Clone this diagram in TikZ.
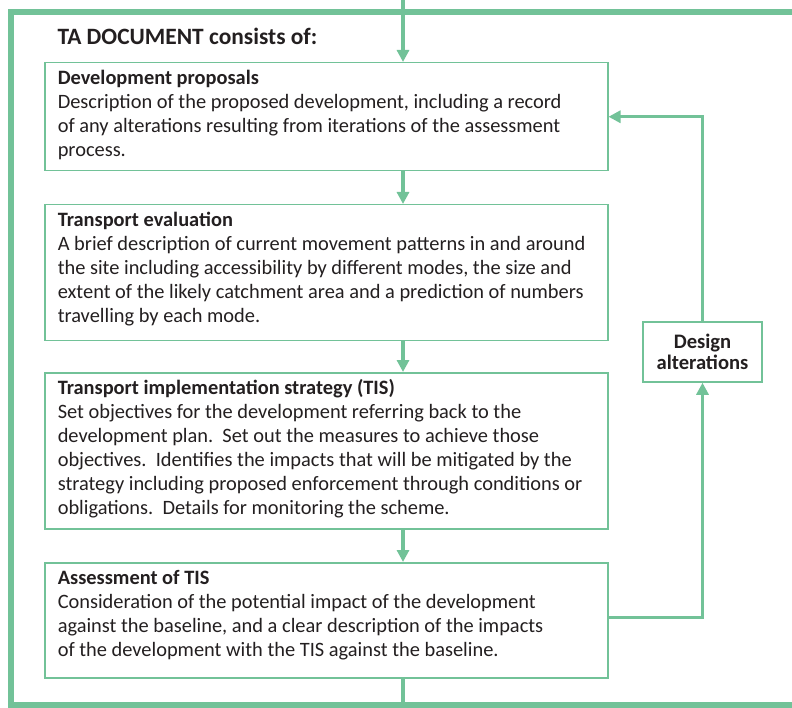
\documentclass[tikz,border=0pt]{standalone}
\usepackage{fontspec}
\setmainfont{Carlito}
\usetikzlibrary{arrows.meta}
\definecolor{tagreen}{RGB}{114,194,152}
\definecolor{tatext}{RGB}{35,31,32}
\newcommand{\boxbody}[3]{\parbox[t][#1][t]{537pt}{\rule{0pt}{22pt}\textbf{#2}\\#3}}
\begin{document}
\begin{tikzpicture}[x=1pt,y=-1pt,
  bodyfont/.style={font=\fontsize{20.4}{24}\selectfont},
  stepbox/.style={draw=tagreen, line width=1.5pt, fill=white, anchor=north west,
    inner xsep=13pt, inner ysep=0pt, align=left, text=tatext, bodyfont},
  altbox/.style={draw=tagreen, line width=1.5pt, fill=white, minimum width=119pt,
    minimum height=60pt, align=center, text=tatext,
    font=\fontsize{20.6}{21}\selectfont\bfseries},
  frame/.style={draw=tagreen, line width=5.5pt},
  link/.style={draw=tagreen, line width=3.5pt},
  arr/.style={link, -{Triangle[width=12pt,length=12pt]}}]
\useasboundingbox (0,0) rectangle (792,708);
% outer frame
\draw[frame] (800,12) -- (11,12) -- (11,705) -- (800,705);
\node[anchor=base west, text=tatext, font=\fontsize{23.4}{24}\selectfont\bfseries] (title) at (54,45) {TA DOCUMENT consists of:};
\node[stepbox] (dp) at (44,62) {\boxbody{108pt}{Development proposals}{%
Description of the proposed development, including a record\\
of any alterations resulting from iterations of the assessment\\
process.}};
\node[stepbox] (te) at (44,204) {\boxbody{136pt}{Transport evaluation}{%
A brief description of current movement patterns in and around\\
the site including accessibility by different modes, the size and\\
extent of the likely catchment area and a prediction of numbers\\
travelling by each mode.}};
\node[stepbox] (tis) at (44,372) {\boxbody{156pt}{Transport implementation strategy (TIS)}{%
Set objectives for the development referring back to the\\
development plan.\ \ Set out the measures to achieve those\\
objectives.\ \ Identifies the impacts that will be mitigated by the\\
strategy including proposed enforcement through conditions or\\
obligations.\ \ Details for monitoring the scheme.}};
\node[stepbox] (as) at (44,562) {\boxbody{115pt}{Assessment of TIS}{%
Consideration of the potential impact of the development\\
against the baseline, and a clear description of the impacts\\
of the development with the TIS against the baseline.}};
\node[altbox] (da) at (702.5,352) {Design\\alterations};
\coordinate (topin) at (403,0);
\coordinate (botout) at (403,705);
\draw[arr] (topin) -- (topin |- dp.north);
\draw[arr] (dp.south -| topin) -- (te.north -| topin);
\draw[arr] (te.south -| topin) -- (tis.north -| topin);
\draw[arr] (tis.south -| topin) -- (as.north -| topin);
\draw[link] (as.south -| topin) -- (botout);
\draw[arr] ([yshift=3pt]as.east) -| (da.south);
\draw[arr] (da.north) |- (dp.east);
\end{tikzpicture}
\end{document}
